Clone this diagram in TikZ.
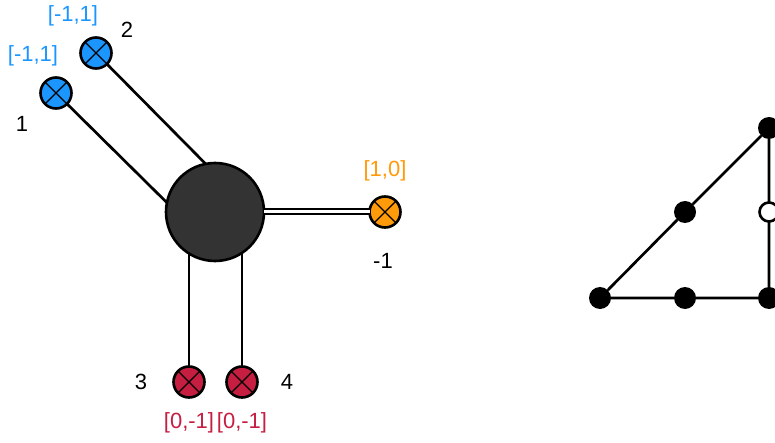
\documentclass[tikz,border=0pt]{standalone}
\usepackage{fontspec}
\setmainfont{Liberation Sans}
\definecolor{legblue}{HTML}{1B96FF}
\definecolor{legorange}{HTML}{FF9A0A}
\definecolor{legred}{HTML}{C61E41}
\colorlet{hubgray}{black!80}
\newcommand{\lbl}[1]{\fontsize{22}{26}\selectfont #1}

\begin{document}
\begin{tikzpicture}[x=1pt,y=-1pt,
    any/.style={circle,draw=black,line width=2.6pt,inner sep=0pt,outer sep=0pt},
    ext/.style={any,minimum size=31pt,fill=#1,%
                path picture={\draw[line width=1.4pt]
                  (path picture bounding box.north west) -- (path picture bounding box.south east)
                  (path picture bounding box.north east) -- (path picture bounding box.south west);}},
    hub/.style={any,minimum size=98pt,fill=hubgray},
    lab/.style={text=#1,font=\lbl{}},
    dot/.style={circle,fill=black,minimum size=22pt,inner sep=0pt,outer sep=0pt},
    hole/.style={dot,fill=white,draw=black,line width=2.6pt,minimum size=19pt},
    conn/.style={line width=2.7pt}
]
\useasboundingbox (0,0) rectangle (775,443);

\node[hub] (center) at (215,212) {};
\node[ext=legblue] (leg1) at (56,93) {};
\node[ext=legblue] (leg2) at (96,53) {};
\node[ext=legorange] (leg5) at (385,212) {};
\node[ext=legred] (leg3) at (189,382) {};
\node[ext=legred] (leg4) at (242,382) {};

\draw[conn] (leg1) -- (center.169);
\draw[conn] (leg2) -- (center.101.5);
\draw[conn] (leg3) -- (leg3 |- center.238.7);
\draw[conn] (leg4) -- (leg4 |- center.302.7);
\draw[line width=2pt,double,double distance=3pt] (center.east) -- (leg5.west);

\node[lab=legblue] (w1) at (33,56) {[-1,1]};
\node[lab=legblue] (w2) at (73,16) {[-1,1]};
\node[lab=legorange] (w5) at (385,171) {[1,0]};
\node[lab=legred] (w3) at (189,423) {[0,-1]};
\node[lab=legred] (w4) at (242,423) {[0,-1]};

\node[lab=black] (i1) at (22,124) {1};
\node[lab=black] (i2) at (127,30) {2};
\node[lab=black] (i5) at (383,261) {-1};
\node[lab=black] (i3) at (141,382) {3};
\node[lab=black] (i4) at (287,382) {4};

\node[dot] (bl) at (600,298) {};
\node[dot] (bm) at (685,298) {};
\node[dot] (br) at (769,298) {};
\node[dot] (hm) at (685,212) {};
\node[dot] (tp) at (769,128) {};
\node[hole] (wm) at (769,212) {};

\draw[conn] (bl) -- (hm) -- (tp) -- (wm) -- (br) -- (bm) -- (bl);

\end{tikzpicture}
\end{document}
